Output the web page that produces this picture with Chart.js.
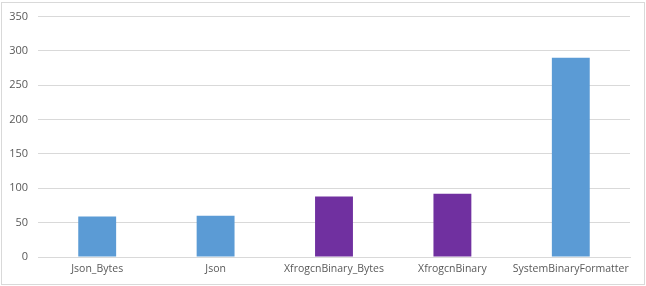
<!DOCTYPE html>
<html>
<head>
<meta charset="utf-8">
<script src="https://cdn.jsdelivr.net/npm/chart.js@4/dist/chart.umd.min.js"></script>
<style>
html,body{margin:0;padding:0;background:#fff;}
canvas{display:block;}
</style>
</head>
<body>
<canvas id="c" width="646" height="286"></canvas>
<script>
const categories = ["Json_Bytes", "Json", "XfrogcnBinary_Bytes", "XfrogcnBinary", "SystemBinaryFormatter"];
const values = [59, 60, 88, 92, 290];
const barColors = ["#5B9BD5", "#5B9BD5", "#7030A0", "#7030A0", "#5B9BD5"];
const yTicks = [0, 50, 100, 150, 200, 250, 300, 350];

const borderPlugin = {
  id: 'frame',
  beforeDraw(chart) {
    const ctx = chart.ctx;
    ctx.save();
    ctx.fillStyle = '#fff';
    ctx.fillRect(0, 0, chart.width, chart.height);
    ctx.strokeStyle = '#d9d9d9';
    ctx.lineWidth = 1;
    ctx.strokeRect(1.5, 2.5, chart.width - 3, chart.height - 4);
    ctx.restore();
  }
};

new Chart(document.getElementById('c'), {
  type: 'bar',
  data: {
    labels: categories,
    datasets: [{
      data: values,
      backgroundColor: barColors,
      borderWidth: 0,
      categoryPercentage: 1,
      barPercentage: 0.32
    }]
  },
  options: {
    responsive: false,
    animation: false,
    devicePixelRatio: 1,
    layout: { padding: { left: 0, right: 16, top: 15, bottom: 0 } },
    plugins: { legend: { display: false }, tooltip: { enabled: false } },
    scales: {
      x: {
        grid: { display: false, drawTicks: false },
        border: { display: true, color: '#d9d9d9' },
        ticks: { color: '#595959', font: { family: 'Open Sans', size: 10.5 }, padding: 6, maxRotation: 0, autoSkip: false },
        afterFit(s) { s.height = 29; }
      },
      y: {
        min: 0, max: 350,
        afterBuildTicks(s) { s.ticks = yTicks.map(v => ({ value: v })); },
        grid: { color: '#d9d9d9', drawTicks: false },
        border: { display: false },
        ticks: { color: '#595959', font: { family: 'Open Sans', size: 11 }, padding: 10 },
        afterFit(s) { s.width = 38; }
      }
    }
  },
  plugins: [borderPlugin]
});
</script>
</body>
</html>
